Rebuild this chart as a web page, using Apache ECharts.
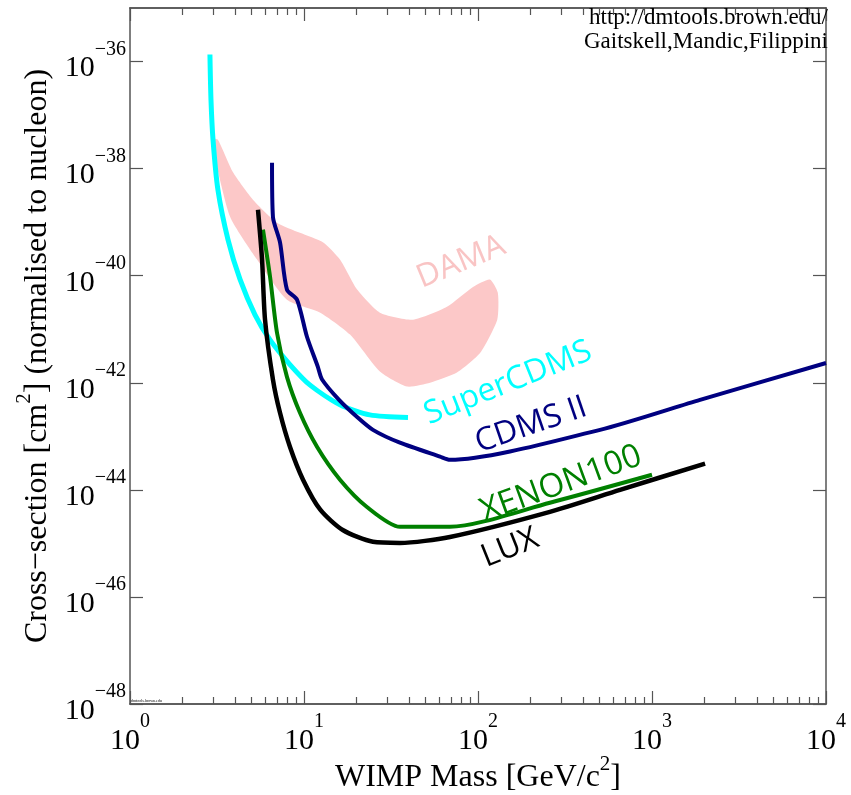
<!DOCTYPE html>
<html>
<head>
<meta charset="utf-8">
<script src="https://cdn.jsdelivr.net/npm/echarts@6.0.0/dist/echarts.min.js"></script>
<style>
  html, body { margin: 0; padding: 0; background: #fff; }
  #main { width: 851px; height: 795px; }
</style>
</head>
<body>
<div id="main"></div>
<script>
// axis ranges
var massRange = [1, 1e4];
var sigmaRange = [1e-48, 1e-35];
var minorMassTicks = [2, 3, 4, 5, 6, 7, 8, 9, 20, 30, 40, 50, 60, 70, 80, 90,
  200, 300, 400, 500, 600, 700, 800, 900, 2000, 3000, 4000, 5000, 6000, 7000, 8000, 9000];
var sigmaTicks = [1e-48, 1e-46, 1e-44, 1e-42, 1e-40, 1e-38, 1e-36];

// SuperCDMS
var superMass = [2.88, 2.92, 3.0, 3.2, 3.66, 4.29, 5.23, 6.38, 8.3, 10.8, 16.1, 23.9, 39.6];
var superSigma = [1.35e-36, 1.95e-37, 3.47e-38, 4.07e-39, 4.68e-40, 8.51e-41, 1.86e-41, 6.31e-42,
  2.19e-42, 9.12e-43, 3.89e-43, 2.51e-43, 2.24e-43];

// CDMS II
var cdmsMass = [6.55, 6.63, 7.28, 7.98, 9.12, 10.4, 12.0, 12.7, 15.9, 20.2, 24.9, 35.6, 60.5, 69, 503, 1888, 10000];
var cdmsSigma = [1.29e-38, 1.26e-39, 4.17e-40, 5.5e-41, 3.55e-41, 7.24e-42, 2.0e-42, 1.15e-42, 4.79e-43,
  2.29e-43, 1.32e-43, 7.59e-44, 4.17e-44, 3.63e-44, 1.32e-43, 4.79e-43, 2.34e-42];

// XENON100
var xenonMass = [5.81, 6.38, 7.0, 7.98, 9.48, 11.9, 16.1, 23.0, 35.6, 69, 259, 1000];
var xenonSigma = [7.24e-40, 9.55e-41, 8.51e-42, 1.29e-42, 2.75e-43, 6.31e-44, 1.55e-44, 4.79e-45,
  2.04e-45, 2.04e-45, 5.75e-45, 1.91e-44];

// LUX
var luxMass = [5.44, 5.74, 5.97, 6.63, 7.28, 8.31, 9.87, 12.4, 16.7, 24.9, 35.6, 69, 259, 655, 2018];
var luxSigma = [1.7e-39, 2.0e-40, 1.51e-41, 1.15e-42, 2.75e-43, 6.31e-44, 1.55e-44, 4.27e-45, 1.78e-45,
  1.07e-45, 1.02e-45, 1.32e-45, 3.89e-45, 1.0e-44, 3.09e-44];

// DAMA region (outline, upper edge then lower edge back)
var damaMass = [2.96, 3.2, 3.91, 5.09, 7.0, 9.48, 12.9, 16.1, 20.2, 27.3, 42.3, 66.3, 93.6, 117, 130,
  129, 103, 75.7, 53, 39.1, 27.3, 18.4, 12.4, 7.98, 5.37, 3.76, 3.0];
var damaSigma = [3.63e-38, 3.47e-38, 8.51e-39, 2.63e-39, 9.77e-40, 6.31e-40, 4.17e-40, 2.0e-40, 5.5e-41,
  2.04e-41, 1.51e-41, 2.63e-41, 6.17e-41, 8.51e-41, 4.79e-41,
  1.51e-41, 3.63e-42, 1.55e-42, 1.0e-42, 8.51e-43, 1.62e-42, 7.94e-42, 2.04e-41, 3.55e-41, 2.0e-40,
  1.26e-39, 2.29e-38];

// echarts' log scale rounds such tiny numbers to 0, so the y axis works in units of 1e-48 cm^2
var Y_UNIT = 1e-48;
function toUnit(s) { return s / Y_UNIT; }

function pairs(xs, ys) {
  return xs.map(function (x, i) { return [x, toUnit(ys[i])]; });
}

var serif = 'Liberation Serif';
var axisColor = '#555';

function powLabel(exp) {
  return '{b|10}{s|' + (exp < 0 ? '\u2212' : '') + Math.abs(exp) + '}';
}
function xLabel(v) { return powLabel(Math.round(Math.log10(v))); }
function yLabel(v) { return powLabel(Math.round(Math.log10(v * Y_UNIT))); }

var powRich = {
  b: { fontFamily: serif, fontSize: 30, color: '#000', lineHeight: 44, verticalAlign: 'bottom' },
  s: { fontFamily: serif, fontSize: 20, color: '#000', lineHeight: 22, verticalAlign: 'top' }
};

function baseX(pos, major, show) {
  return {
    type: 'log', logBase: 10, min: massRange[0], max: massRange[1], position: pos,
    axisLine: { show: true, onZero: false, lineStyle: { color: axisColor, width: 1.5 } },
    axisTick: major
      ? { show: true, inside: true, length: 13, lineStyle: { color: axisColor, width: 1.2 } }
      : { show: true, inside: true, length: 7, customValues: minorMassTicks, lineStyle: { color: axisColor, width: 1.2 } },
    axisLabel: show
      ? { show: true, margin: 8, formatter: xLabel, rich: powRich }
      : { show: false },
    splitLine: { show: false },
    minorTick: { show: false }
  };
}

var nameRich = {
  n: { fontFamily: serif, fontSize: 32, color: '#000', lineHeight: 40, verticalAlign: 'bottom' },
  s: { fontFamily: serif, fontSize: 21, color: '#000', lineHeight: 22, verticalAlign: 'top' }
};

var xMain = baseX('bottom', true, true);
xMain.name = '{n|WIMP Mass [GeV/c}{s|2}{n|]}';
xMain.nameLocation = 'middle';
xMain.nameMoveOverlap = false;
xMain.nameGap = 50;
xMain.nameTextStyle = { rich: nameRich };

var yTickValues = sigmaTicks.map(toUnit);

function baseY(pos, show) {
  return {
    type: 'log', logBase: 10, min: toUnit(sigmaRange[0]), max: toUnit(sigmaRange[1]), position: pos,
    axisLine: { show: true, onZero: false, lineStyle: { color: axisColor, width: 1.5 } },
    axisTick: { show: true, inside: true, length: 13, customValues: yTickValues, lineStyle: { color: axisColor, width: 1.2 } },
    axisLabel: show
      ? { show: true, margin: 4, customValues: yTickValues, formatter: yLabel, rich: powRich }
      : { show: false },
    splitLine: { show: false },
    minorTick: { show: false }
  };
}
var yMain = baseY('left', true);
yMain.name = '{n|Cross\u2212section [cm}{s|2}{n|] (normalised to nucleon)}';
yMain.nameLocation = 'middle';
yMain.nameGap = 76;
yMain.nameTextStyle = { rich: nameRich };

function curve(name, xs, ys, color, width) {
  return {
    name: name, type: 'line', xAxisIndex: 0, yAxisIndex: 0,
    data: pairs(xs, ys), showSymbol: false, smooth: 0.25,
    lineStyle: { color: color, width: width }, z: 3
  };
}

var chart = echarts.init(document.getElementById('main'));

var option = {
  backgroundColor: '#fff',
  animation: false,
  grid: { left: 130, top: 8, right: 25, bottom: 91, outerBoundsMode: 'none' },
  xAxis: [xMain, baseX('bottom', false, false), baseX('top', true, false), baseX('top', false, false)],
  yAxis: [yMain, baseY('right', false)],
  series: [
    {
      name: 'DAMA', type: 'custom', xAxisIndex: 0, yAxisIndex: 0,
      data: pairs(damaMass, damaSigma), z: 1,
      renderItem: function (params, api) {
        if (params.dataIndex !== 0) return null;
        var pts = damaMass.map(function (m, i) { return api.coord([m, toUnit(damaSigma[i])]); });
        return {
          type: 'polygon',
          shape: { points: pts, smooth: 0.2 },
          style: { fill: '#fcc8c8', stroke: null }
        };
      }
    },
    curve('SuperCDMS', superMass, superSigma, '#00ffff', 5),
    curve('CDMS II', cdmsMass, cdmsSigma, '#000080', 4),
    curve('XENON100', xenonMass, xenonSigma, '#008000', 4),
    curve('LUX', luxMass, luxSigma, '#000000', 4.5)
  ],
  graphic: [
    { type: 'text', right: 23, top: 6, z: 10, style: { text: 'http://dmtools.brown.edu/', font: '23px "Liberation Serif"', fill: '#000' } },
    { type: 'text', right: 23, top: 30, z: 10, style: { text: 'Gaitskell,Mandic,Filippini', font: '23px "Liberation Serif"', fill: '#000' } },
    { type: 'text', left: 131, top: 699, z: 10, style: { text: 'dmtools.brown.edu', font: '4px "Liberation Serif"', fill: '#000' } },
    { type: 'text', x: 461, y: 262, rotation: 0.39, style: { text: 'DAMA', font: '32px "Open Sans"', fill: '#f9c4c4', align: 'center', verticalAlign: 'middle' } },
    { type: 'text', x: 508, y: 383, rotation: 0.38, style: { text: 'SuperCDMS', font: '32px "Open Sans"', fill: '#00ffff', align: 'center', verticalAlign: 'middle' } },
    { type: 'text', x: 531, y: 425, rotation: 0.33, style: { text: 'CDMS II', font: '32px "Open Sans"', fill: '#000080', align: 'center', verticalAlign: 'middle' } },
    { type: 'text', x: 561, y: 484, rotation: 0.35, style: { text: 'XENON100', font: '33px "Open Sans"', fill: '#008000', align: 'center', verticalAlign: 'middle' } },
    { type: 'text', x: 510, y: 548, rotation: 0.38, style: { text: 'LUX', font: '32px "Open Sans"', fill: '#000', align: 'center', verticalAlign: 'middle' } }
  ]
};

chart.setOption(option);
</script>
</body>
</html>
